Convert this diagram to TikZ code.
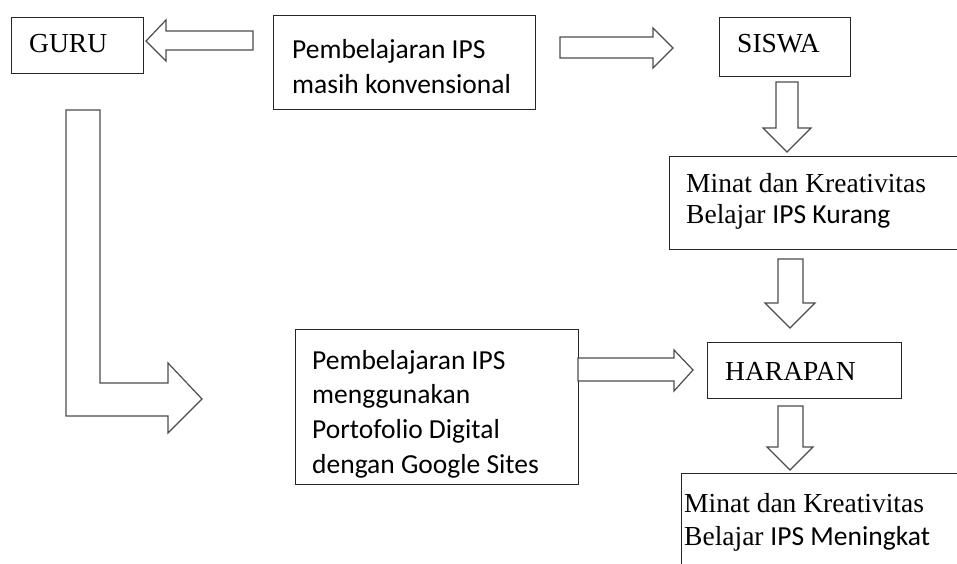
\documentclass[tikz,border=0pt]{standalone}
\usepackage{fontspec}
\setmainfont{Liberation Serif}
\newfontfamily\sansc{Carlito}
\tikzset{
  box/.style={draw=black!85, line width=1.3pt, rectangle, inner sep=0pt, anchor=north west},
  barrow/.style={draw=black!70, line width=1.2pt, fill=white, line join=miter},
  lbl/.style={anchor=base west, inner sep=0pt, font=\fontsize{27.5}{33}\selectfont},
  slbl/.style={anchor=base west, inner sep=0pt, font=\sansc\fontsize{27.5}{33}\selectfont},
}
\begin{document}
\begin{tikzpicture}[x=1pt,y=-1pt]
\path[use as bounding box, clip] (0,0) rectangle (957,563);
% boxes
\node[box, minimum width=132pt, minimum height=56pt] (guru) at (11,17) {};
\node[box, minimum width=262pt, minimum height=94pt] (konv) at (273,15) {};
\node[box, minimum width=131pt, minimum height=59pt] (siswa) at (719,17) {};
\node[box, minimum width=310pt, minimum height=93pt] (kurang) at (669,156) {};
\node[box, minimum width=283pt, minimum height=155pt] (porto) at (295,329) {};
\node[box, minimum width=194pt, minimum height=56pt] (harapan) at (707,342) {};
\node[box, minimum width=300pt, minimum height=140pt] (tingkat) at (681,473) {};
% texts
\node[lbl] (guruT) at (29,52) {GURU};
\node[slbl] (konvA) at (292,58) {Pembelajaran IPS};
\node[slbl] (konvB) at (292,93) {masih konvensional};
\node[lbl] (siswaT) at (737,52) {SISWA};
\node[lbl] (kurangA) at (686,192) {Minat dan Kreativitas};
\node[lbl] (kurangB) at (686,223) {Belajar {\sansc IPS Kurang}};
\node[slbl] (portoA) at (312,369) {Pembelajaran IPS};
\node[slbl] (portoB) at (312,403) {menggunakan};
\node[slbl] (portoC) at (312,438) {Portofolio Digital};
\node[slbl] (portoD) at (312,473) {dengan Google Sites};
\node[lbl] (harapanT) at (725,380) {HARAPAN};
\node[lbl] (tingkatA) at (684,512) {Minat dan Kreativitas};
\node[lbl] (tingkatB) at (684,545) {Belajar {\sansc IPS Meningkat}};
% block arrows
% konv -> guru (left)
\draw[barrow] (253,31) -- (166,31) -- (166,20) -- (146,41) -- (166,61) -- (166,50) -- (253,50) -- cycle;
% konv -> siswa (right)
\draw[barrow] (560,37) -- (653,37) -- (653,28) -- (673,48) -- (653,68) -- (653,58) -- (560,58) -- cycle;
% siswa -> kurang (down)
\draw[barrow] (776,82) -- (798,82) -- (798,128) -- (811,128) -- (787,152) -- (763,128) -- (776,128) -- cycle;
% kurang -> harapan (down)
\draw[barrow] (778,259) -- (803,259) -- (803,303) -- (815,303) -- (790,328) -- (765,303) -- (778,303) -- cycle;
% guru -> porto (L-shaped)
\draw[barrow] (66,110) -- (100,110) -- (100,383) -- (168,383) -- (168,363) -- (202,399) -- (168,433) -- (168,416) -- (66,416) -- cycle;
% porto -> harapan (right)
\draw[barrow] (578,358) -- (674,358) -- (674,350) -- (693,370) -- (674,391) -- (674,381) -- (578,381) -- cycle;
% harapan -> tingkat (down)
\draw[barrow] (778,406) -- (803,406) -- (803,447) -- (813,447) -- (790,470) -- (767,447) -- (778,447) -- cycle;
\end{tikzpicture}
\end{document}
